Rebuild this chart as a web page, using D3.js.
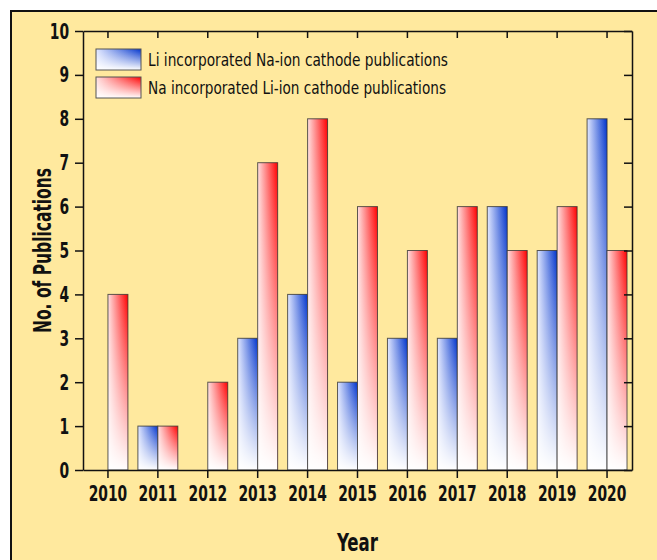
<!DOCTYPE html>
<html>
<head>
<meta charset="utf-8">
<script src="https://cdn.jsdelivr.net/npm/d3@7"></script>
<style>
  body { margin: 0; background: #fff; }
  text { font-family: "DejaVu Sans Condensed", "DejaVu Sans", sans-serif; font-stretch: condensed; }
</style>
</head>
<body>
<script>
// data
var years = ["2010", "2011", "2012", "2013", "2014", "2015", "2016", "2017", "2018", "2019", "2020"];
var liInNa = [0, 1, 0, 3, 4, 2, 3, 3, 6, 5, 8];
var naInLi = [4, 1, 2, 7, 8, 6, 5, 6, 5, 6, 5];
var seriesNames = ["Li incorporated Na-ion cathode publications", "Na incorporated Li-ion cathode publications"];
var yTicks = [0, 1, 2, 3, 4, 5, 6, 7, 8, 9, 10];

var width = 657, height = 560;
var margin = {top: 31, right: 25, bottom: 90, left: 83};
var w = width - margin.left - margin.right,
    h = height - margin.top - margin.bottom;

var svg = d3.select("body").append("svg")
    .attr("width", width)
    .attr("height", height);

// yellow panel with black frame
svg.append("rect")
    .attr("x", 11).attr("y", 11)
    .attr("width", 700).attr("height", 600)
    .style("fill", "#ffe99e")
    .style("stroke", "#111")
    .style("stroke-width", 2);

// gradients: colour runs left->right, then a white fade from the bottom
var defs = svg.append("defs");
function grad(id, light, color) {
  var g = defs.append("linearGradient")
      .attr("id", id)
      .attr("x1", "0%").attr("y1", "0%")
      .attr("x2", "100%").attr("y2", "0%");
  g.append("stop").attr("offset", "0%").attr("stop-color", light);
  g.append("stop").attr("offset", "100%").attr("stop-color", color);
}
grad("gBlue", "#dfe6ff", "#0033cc");
grad("gRed", "#ffe0e0", "#ff0000");
var fade = defs.append("linearGradient")
    .attr("id", "gFade")
    .attr("x1", "0%").attr("y1", "100%")
    .attr("x2", "0%").attr("y2", "0%");
fade.append("stop").attr("offset", "0%").attr("stop-color", "#fff").attr("stop-opacity", 1);
fade.append("stop").attr("offset", "100%").attr("stop-color", "#fff").attr("stop-opacity", 0);
var fills = ["url(#gBlue)", "url(#gRed)"];

var g = svg.append("g")
    .attr("transform", "translate(" + margin.left + "," + margin.top + ")");

var x = d3.scaleBand().domain(years).range([0, w]).paddingInner(0.2).paddingOuter(0.1);
var x1 = d3.scaleBand().domain([0, 1]).range([0, x.bandwidth()]);
var y = d3.scaleLinear().domain([0, 10]).range([h, 0]);

// bars
var rows = years.map(function(yr, i) { return {year: yr, vals: [liInNa[i], naInLi[i]]}; });
var groups = g.selectAll(".grp")
    .data(rows)
    .enter().append("g")
    .attr("class", "grp")
    .attr("transform", function(d) { return "translate(" + x(d.year) + ",0)"; });

var bars = groups.selectAll("g.bar")
    .data(function(d) { return d.vals.map(function(v, k) { return {k: k, v: v}; }).filter(function(d) { return d.v > 0; }); })
    .enter().append("g")
    .attr("class", "bar");

bars.append("rect")
    .attr("x", function(d) { return x1(d.k); })
    .attr("y", function(d) { return y(d.v); })
    .attr("width", x1.bandwidth())
    .attr("height", function(d) { return h - y(d.v); })
    .style("fill", function(d) { return fills[d.k]; });

bars.append("rect")
    .attr("x", function(d) { return x1(d.k); })
    .attr("y", function(d) { return y(d.v); })
    .attr("width", x1.bandwidth())
    .attr("height", function(d) { return h - y(d.v); })
    .style("fill", "url(#gFade)")
    .style("stroke", "#333")
    .style("stroke-opacity", 0.8)
    .style("stroke-width", 1);

// axes - the original font is a narrow bold face, so squeeze the labels
var tickFont = function(sel) {
  sel.selectAll("text")
    .style("font-size", "22px")
    .style("font-weight", "bold")
    .style("fill", "#111")
    .attr("transform", "scale(0.7,1)");
  sel.selectAll("line").style("stroke", "#111").style("stroke-width", 1.5);
  sel.select(".domain").style("stroke", "#111").style("stroke-width", 1.5);
};

g.append("g")
    .attr("transform", "translate(0," + h + ")")
    .call(d3.axisBottom(x).tickSize(8).tickSizeOuter(0).tickPadding(7))
    .call(tickFont);

g.append("g")
    .call(d3.axisTop(x).tickSize(-7).tickSizeOuter(0).tickFormat(""))
    .call(tickFont);

g.append("g")
    .call(d3.axisLeft(y).tickValues(yTicks).tickSize(8).tickSizeOuter(0).tickPadding(12))
    .call(tickFont);

g.append("g")
    .attr("transform", "translate(" + w + ",0)")
    .call(d3.axisRight(y).tickValues(yTicks).tickSize(-8).tickSizeOuter(0).tickFormat(""))
    .call(tickFont);

// axis titles
svg.append("text")
    .attr("transform", "translate(42," + (margin.top + h / 2) + ") rotate(-90)")
    .attr("dy", "0.35em")
    .attr("textLength", 165)
    .attr("lengthAdjust", "spacingAndGlyphs")
    .style("text-anchor", "middle")
    .style("font-size", "25px")
    .style("font-weight", "bold")
    .style("fill", "#111")
    .text("No. of Publications");

svg.append("text")
    .attr("x", margin.left + w / 2)
    .attr("y", 551)
    .attr("textLength", 41)
    .attr("lengthAdjust", "spacingAndGlyphs")
    .style("text-anchor", "middle")
    .style("font-size", "25px")
    .style("font-weight", "bold")
    .style("fill", "#111")
    .text("Year");

// legend
var legend = svg.append("g").attr("transform", "translate(96,49)");
seriesNames.forEach(function(name, i) {
  legend.append("rect")
    .attr("x", 0).attr("y", i * 28)
    .attr("width", 45).attr("height", 21)
    .style("fill", fills[i]);
  legend.append("rect")
    .attr("x", 0).attr("y", i * 28)
    .attr("width", 45).attr("height", 21)
    .style("fill", "url(#gFade)")
    .style("stroke", "#555")
    .style("stroke-width", 1);
  legend.append("text")
    .attr("x", 52).attr("y", i * 28 + 17)
    .attr("textLength", i === 0 ? 300 : 298)
    .attr("lengthAdjust", "spacingAndGlyphs")
    .style("font-size", "18px")
    .style("fill", "#111")
    .text(name);
});
</script>
</body>
</html>
